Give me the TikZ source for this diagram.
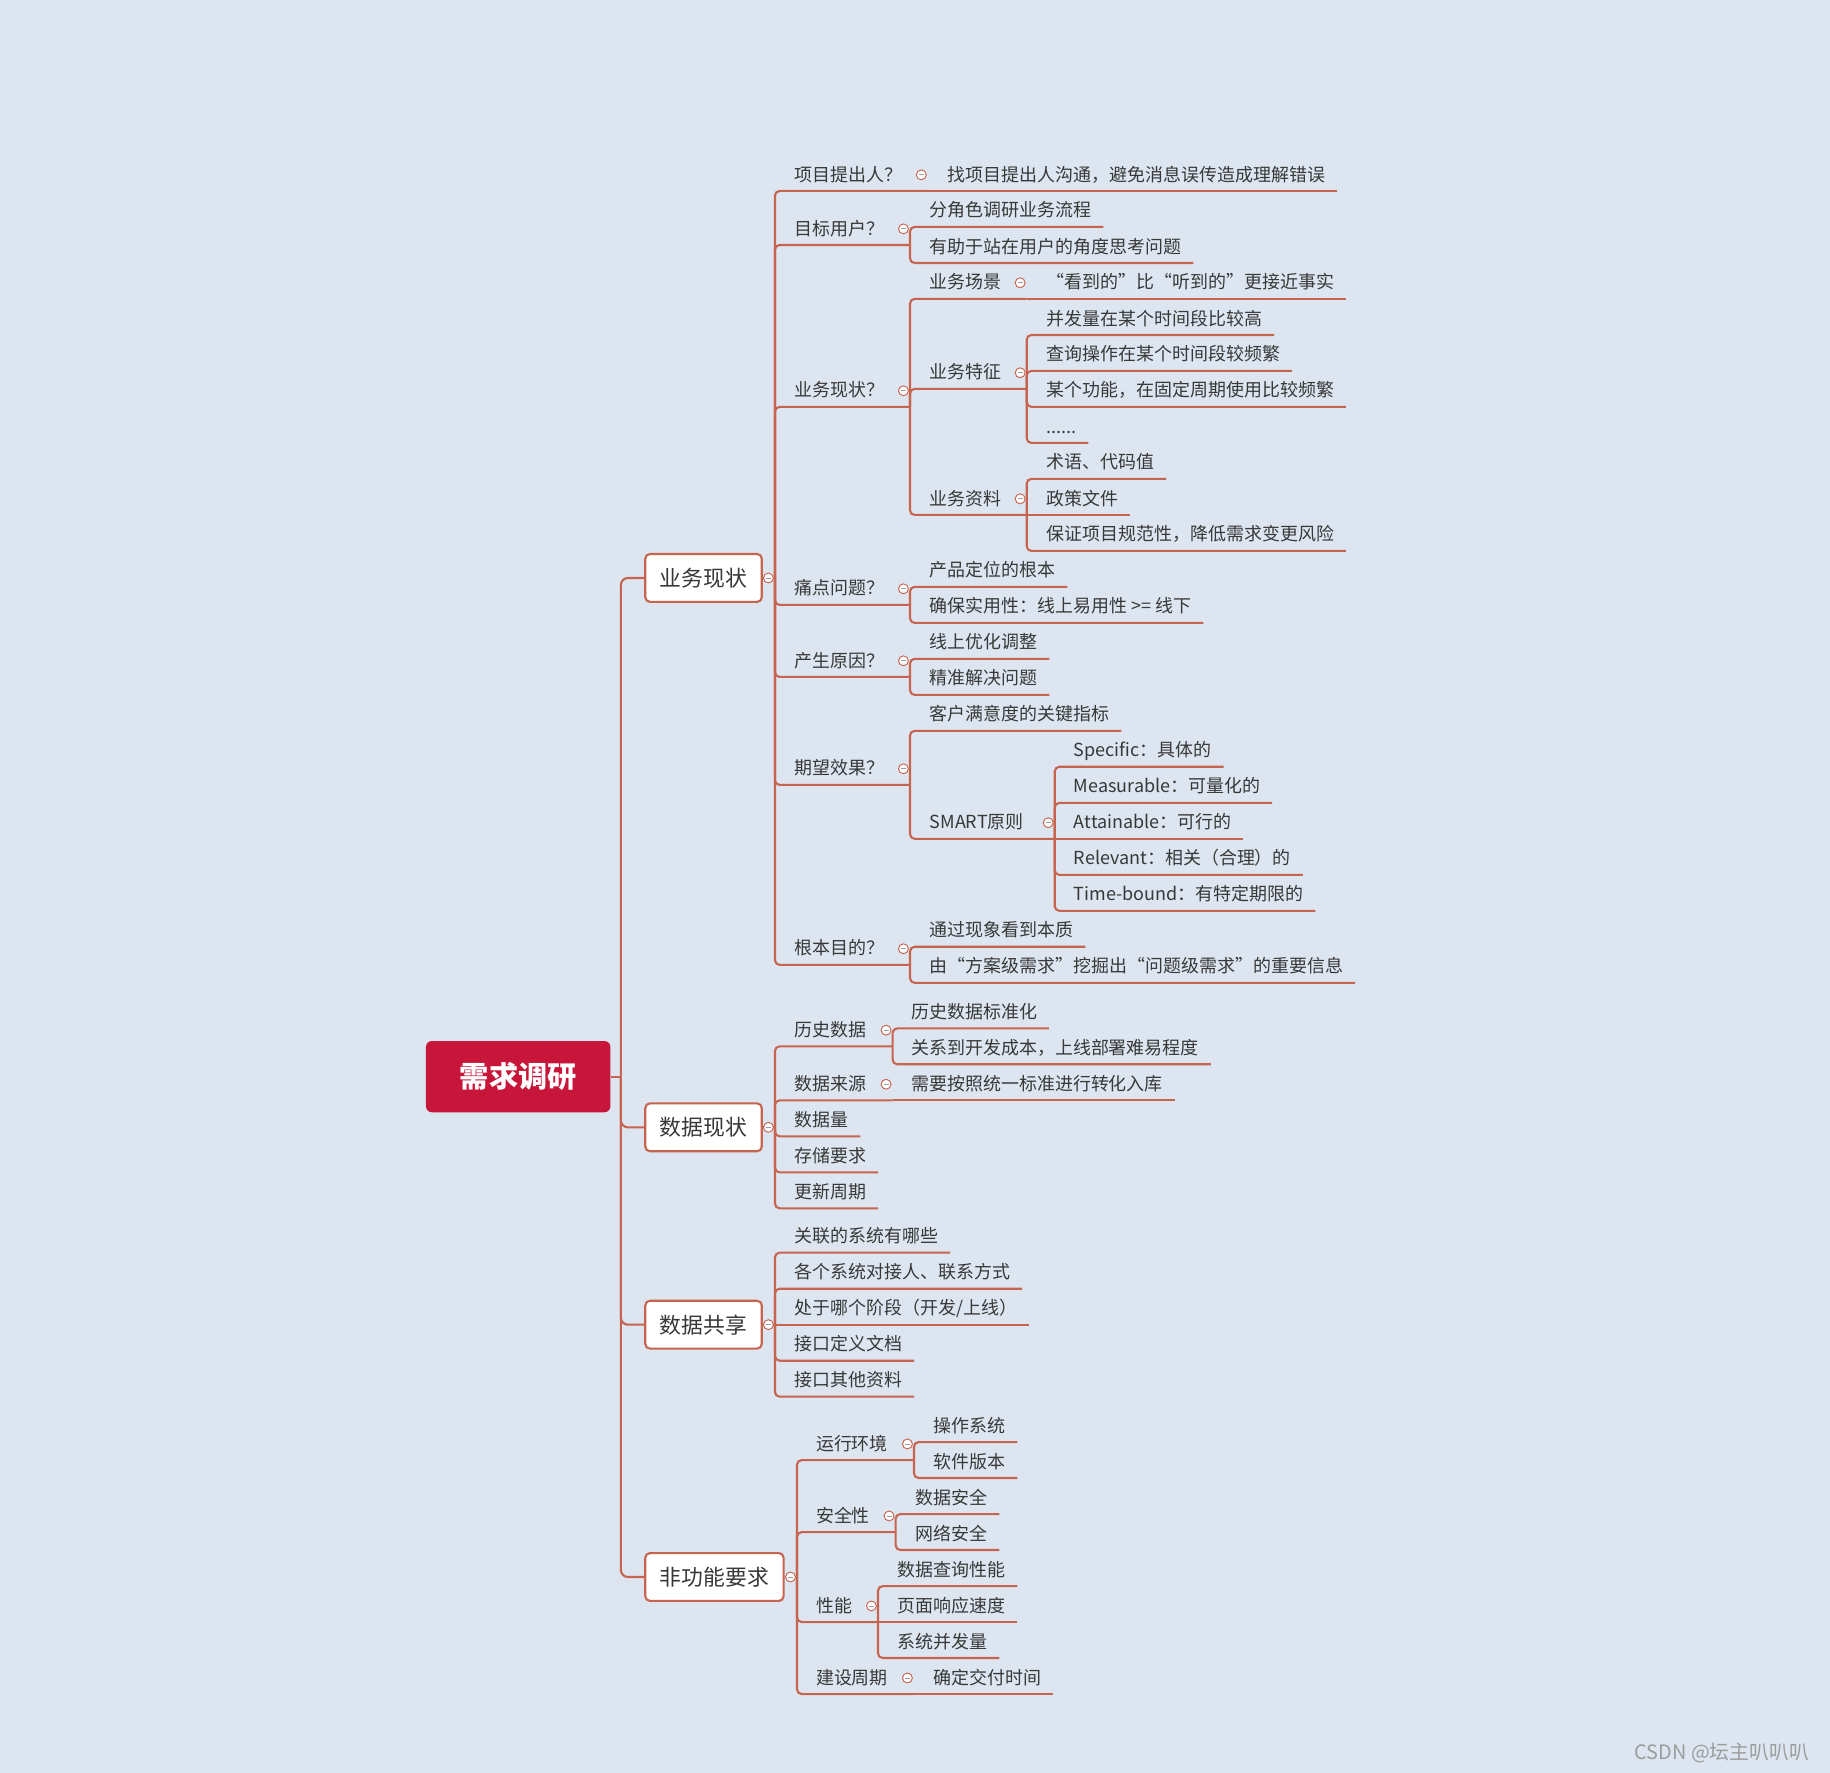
\documentclass[tikz,border=0pt]{standalone}
\usepackage{fontspec}
\setmainfont{Noto Sans CJK SC}
\definecolor{cFondo}{HTML}{DDE6F0}
\definecolor{cLinea}{HTML}{C6644F}
\definecolor{cRojo}{HTML}{C8163A}
\definecolor{cTexto}{HTML}{383838}
\definecolor{cGris}{HTML}{9C9C9C}
\newcommand{\cizq}{{\addfontfeature{RawFeature=+fwid}“}}
\newcommand{\cder}{{\addfontfeature{RawFeature=+fwid}”}}

\begin{document}
\begin{tikzpicture}[
        x=1pt, y=-1pt,
        linea/.style={
            draw=cLinea,
            line width=1.8pt,
            rounded corners=4pt
        },
        tema/.style={
            anchor=south west,
            inner xsep=10pt,
            inner ysep=0pt,
            minimum height=27.6pt,
            text height=13.2pt,
            text depth=2.2pt,
            text=cTexto,
            font=\fontsize{15.4pt}{18pt}\selectfont
        },
        rama/.style={
            anchor=west,
            draw=cLinea,
            line width=1.8pt,
            fill=white,
            rounded corners=4pt,
            inner xsep=12.5pt,
            minimum height=41pt,
            text=cTexto,
            font=\fontsize{18.7pt}{22pt}\selectfont
        },
        centro/.style={
            fill=cRojo,
            rounded corners=5pt,
            minimum width=158pt,
            minimum height=61pt,
            text=white,
            font=\fontsize{25pt}{30pt}\selectfont\bfseries
        },
        plegar/.style={
            circle,
            draw=cLinea,
            line width=0.8pt,
            fill=white,
            minimum size=8.5pt,
            inner sep=0pt,
            path picture={\draw[cGris, line width=0.7pt]
                ([xshift=-2.2pt]path picture bounding box.center) --
                ([xshift=2.2pt]path picture bounding box.center);}
        }
    ]

    \path[use as bounding box, fill=cFondo] (0,0) rectangle (1568,1519);

    % Nodo central
    \node[centro] (r) at (444,922.5) {需求调研};
    \coordinate (tr) at (532,922.5);

    % Ramas principales
    \node[rama] (a) at (552,495.2)  {业务现状};
    \node[rama] (b) at (552,965.9)  {数据现状};
    \node[rama] (c) at (552,1135)   {数据共享};
    \node[rama] (d) at (552,1351.2) {非功能要求};

    \coordinate (ja) at (664,495.2);
    \coordinate (jb) at (664,965.9);
    \coordinate (jc) at (664,1135);
    \coordinate (jd) at (682.9,1351.2);

    \draw[linea] (r.east) -- (tr);
    \draw[linea, rounded corners=6pt] (tr) |- (a.west);
    \draw[linea, rounded corners=6pt] (tr) |- (b.west);
    \draw[linea, rounded corners=6pt] (tr) |- (c.west);
    \draw[linea, rounded corners=6pt] (tr) |- (d.west);
    \draw[linea] (a.east) -- (ja);
    \draw[linea] (b.east) -- (jb);
    \draw[linea] (c.east) -- (jc);
    \draw[linea] (d.east) -- (jd);

    % 业务现状
    \node[tema] (a1)   at (670.5,163.6) {项目提出人？};
    \node[tema] (a1a)  at (801.9,163.6) {找项目提出人沟通，避免消息误传造成理解错误};
    \node[tema] (a2)   at (670.5,209.9) {目标用户？};
    \node[tema] (a2a)  at (786.4,194.4) {分角色调研业务流程};
    \node[tema] (a2b)  at (786.4,225.3) {有助于站在用户的角度思考问题};
    \node[tema] (a3)   at (670.5,348.6) {业务现状？};
    \node[tema] (a3a)  at (786.4,256.1) {业务场景};
    \node[tema] (a3a1) at (886.4,256.1) {\cizq 看到的\cder 比\cizq 听到的\cder 更接近事实};
    \node[tema] (a3b)  at (786.4,333.2) {业务特征};
    \node[tema] (a3b1) at (886.4,287.0) {并发量在某个时间段比较高};
    \node[tema] (a3b2) at (886.4,317.8) {查询操作在某个时间段较频繁};
    \node[tema] (a3b3) at (886.4,348.6) {某个功能，在固定周期使用比较频繁};
    \node[tema] (a3b4) at (886.4,379.5) {......};
    \node[tema] (a3c)  at (786.4,441.2) {业务资料};
    \node[tema] (a3c1) at (886.4,410.3) {术语、代码值};
    \node[tema] (a3c2) at (886.4,441.2) {政策文件};
    \node[tema] (a3c3) at (886.4,472.0) {保证项目规范性，降低需求变更风险};
    \node[tema] (a4)   at (670.5,518.3) {痛点问题？};
    \node[tema] (a4a)  at (786.4,502.8) {产品定位的根本};
    \node[tema] (a4b)  at (786.4,533.7) {确保实用性：线上易用性 >= 线下};
    \node[tema] (a5)   at (670.5,580.0) {产生原因？};
    \node[tema] (a5a)  at (786.4,564.5) {线上优化调整};
    \node[tema] (a5b)  at (786.4,595.4) {精准解决问题};
    \node[tema] (a6)   at (670.5,672.5) {期望效果？};
    \node[tema] (a6a)  at (786.4,626.2) {客户满意度的关键指标};
    \node[tema] (a6b)  at (786.4,718.7) {SMART原则};
    \node[tema] (a6b1) at (910,657.0)   {Specific：具体的};
    \node[tema] (a6b2) at (910,687.9)   {Measurable：可量化的};
    \node[tema] (a6b3) at (910,718.7)   {Attainable：可行的};
    \node[tema] (a6b4) at (910,749.6)   {Relevant：相关（合理）的};
    \node[tema] (a6b5) at (910,780.4)   {Time-bound：有特定期限的};
    \node[tema] (a7)   at (670.5,826.7) {根本目的？};
    \node[tema] (a7a)  at (786.4,811.2) {通过现象看到本质};
    \node[tema] (a7b)  at (786.4,842.1) {由\cizq 方案级需求\cder 挖掘出\cizq 问题级需求\cder 的重要信息};

    \coordinate (ja1)  at (795,163.6);
    \coordinate (ja2)  at (779.7,209.9);
    \coordinate (ja3)  at (779.7,348.6);
    \coordinate (ja3a) at (879.7,256.1);
    \coordinate (ja3b) at (879.7,333.2);
    \coordinate (ja3c) at (879.7,441.2);
    \coordinate (ja4)  at (779.7,518.3);
    \coordinate (ja5)  at (779.7,580.0);
    \coordinate (ja6)  at (779.7,672.5);
    \coordinate (ja6b) at (903.7,718.7);
    \coordinate (ja7)  at (779.7,826.7);

    \draw[linea] (ja) |- (ja1);
    \draw[linea] (ja) |- (ja2);
    \draw[linea] (ja) |- (ja3);
    \draw[linea] (ja) |- (ja4);
    \draw[linea] (ja) |- (ja5);
    \draw[linea] (ja) |- (ja6);
    \draw[linea] (ja) |- (ja7);
    \draw[linea] (ja1) -- (a1a.south east);
    \draw[linea] (ja2) |- (a2a.south east);
    \draw[linea] (ja2) |- (a2b.south east);
    \draw[linea] (ja3) |- (ja3a);
    \draw[linea] (ja3) |- (ja3b);
    \draw[linea] (ja3) |- (ja3c);
    \draw[linea] (ja3a) -- (a3a1.south east);
    \draw[linea] (ja3b) |- (a3b1.south east);
    \draw[linea] (ja3b) |- (a3b2.south east);
    \draw[linea] (ja3b) |- (a3b3.south east);
    \draw[linea] (ja3b) |- (a3b4.south east);
    \draw[linea] (ja3c) |- (a3c1.south east);
    \draw[linea] (ja3c) -- (a3c2.south east);
    \draw[linea] (ja3c) |- (a3c3.south east);
    \draw[linea] (ja4) |- (a4a.south east);
    \draw[linea] (ja4) |- (a4b.south east);
    \draw[linea] (ja5) |- (a5a.south east);
    \draw[linea] (ja5) |- (a5b.south east);
    \draw[linea] (ja6) |- (a6a.south east);
    \draw[linea] (ja6) |- (ja6b);
    \draw[linea] (ja6b) |- (a6b1.south east);
    \draw[linea] (ja6b) |- (a6b2.south east);
    \draw[linea] (ja6b) -- (a6b3.south east);
    \draw[linea] (ja6b) |- (a6b4.south east);
    \draw[linea] (ja6b) |- (a6b5.south east);
    \draw[linea] (ja7) |- (a7a.south east);
    \draw[linea] (ja7) |- (a7b.south east);

    % 数据现状
    \node[tema] (b1)  at (670.5,896.5)  {历史数据};
    \node[tema] (b1a) at (770.6,881.1)  {历史数据标准化};
    \node[tema] (b1b) at (770.6,911.9)  {关系到开发成本，上线部署难易程度};
    \node[tema] (b2)  at (670.5,942.8)  {数据来源};
    \node[tema] (b2a) at (770.6,942.8)  {需要按照统一标准进行转化入库};
    \node[tema] (b3)  at (670.5,973.6)  {数据量};
    \node[tema] (b4)  at (670.5,1004.5) {存储要求};
    \node[tema] (b5)  at (670.5,1035.3) {更新周期};

    \coordinate (jb1) at (764.8,896.5);
    \coordinate (jb2) at (764.8,942.8);

    \draw[linea] (jb) |- (jb1);
    \draw[linea] (jb) |- (jb2);
    \draw[linea] (jb) |- (b3.south east);
    \draw[linea] (jb) |- (b4.south east);
    \draw[linea] (jb) |- (b5.south east);
    \draw[linea] (jb1) |- (b1a.south east);
    \draw[linea] (jb1) |- (b1b.south east);
    \draw[linea] (jb2) -- (b2a.south east);

    % 数据共享
    \node[tema] (c1) at (670.5,1073.3) {关联的系统有哪些};
    \node[tema] (c2) at (670.5,1104.2) {各个系统对接人、联系方式};
    \node[tema] (c3) at (670.5,1135)   {处于哪个阶段（开发/上线）};
    \node[tema] (c4) at (670.5,1165.9) {接口定义文档};
    \node[tema] (c5) at (670.5,1196.7) {接口其他资料};

    \draw[linea] (jc) |- (c1.south east);
    \draw[linea] (jc) |- (c2.south east);
    \draw[linea] (jc) -- (c3.south east);
    \draw[linea] (jc) |- (c4.south east);
    \draw[linea] (jc) |- (c5.south east);

    % 非功能要求
    \node[tema] (d1)  at (689,1251)     {运行环境};
    \node[tema] (d1a) at (789.7,1235.6) {操作系统};
    \node[tema] (d1b) at (789.7,1266.4) {软件版本};
    \node[tema] (d2)  at (689,1312.7)   {安全性};
    \node[tema] (d2a) at (774.3,1297.3) {数据安全};
    \node[tema] (d2b) at (774.3,1328.1) {网络安全};
    \node[tema] (d3)  at (689,1389.8)   {性能};
    \node[tema] (d3a) at (758.9,1359.0) {数据查询性能};
    \node[tema] (d3b) at (758.9,1389.8) {页面响应速度};
    \node[tema] (d3c) at (758.9,1420.6) {系统并发量};
    \node[tema] (d4)  at (689,1451.5)   {建设周期};
    \node[tema] (d4a) at (789.7,1451.5) {确定交付时间};

    \coordinate (jd1) at (783.1,1251);
    \coordinate (jd2) at (767.4,1312.7);
    \coordinate (jd3) at (752.3,1389.8);
    \coordinate (jd4) at (783.1,1451.5);

    \draw[linea] (jd) |- (jd1);
    \draw[linea] (jd) |- (jd2);
    \draw[linea] (jd) |- (jd3);
    \draw[linea] (jd) |- (jd4);
    \draw[linea] (jd1) |- (d1a.south east);
    \draw[linea] (jd1) |- (d1b.south east);
    \draw[linea] (jd2) |- (d2a.south east);
    \draw[linea] (jd2) |- (d2b.south east);
    \draw[linea] (jd3) |- (d3a.south east);
    \draw[linea] (jd3) -- (d3b.south east);
    \draw[linea] (jd3) |- (d3c.south east);
    \draw[linea] (jd4) -- (d4a.south east);

    % Botones de plegado
    \node[plegar] (ma)   at ([xshift=-5.6pt]ja) {};
    \node[plegar] (mb)   at ([xshift=-5.6pt]jb) {};
    \node[plegar] (mc)   at ([xshift=-5.6pt]jc) {};
    \node[plegar] (md)   at ([xshift=-5.6pt]jd) {};
    \node[plegar] (ma1)  at ([xshift=-5.6pt,yshift=13.8pt]ja1) {};
    \node[plegar] (ma2)  at ([xshift=-5.6pt,yshift=13.8pt]ja2) {};
    \node[plegar] (ma3)  at ([xshift=-5.6pt,yshift=13.8pt]ja3) {};
    \node[plegar] (ma3a) at ([xshift=-5.6pt,yshift=13.8pt]ja3a) {};
    \node[plegar] (ma3b) at ([xshift=-5.6pt,yshift=13.8pt]ja3b) {};
    \node[plegar] (ma3c) at ([xshift=-5.6pt,yshift=13.8pt]ja3c) {};
    \node[plegar] (ma4)  at ([xshift=-5.6pt,yshift=13.8pt]ja4) {};
    \node[plegar] (ma5)  at ([xshift=-5.6pt,yshift=13.8pt]ja5) {};
    \node[plegar] (ma6)  at ([xshift=-5.6pt,yshift=13.8pt]ja6) {};
    \node[plegar] (ma6b) at ([xshift=-5.6pt,yshift=13.8pt]ja6b) {};
    \node[plegar] (ma7)  at ([xshift=-5.6pt,yshift=13.8pt]ja7) {};
    \node[plegar] (mb1)  at ([xshift=-5.6pt,yshift=13.8pt]jb1) {};
    \node[plegar] (mb2)  at ([xshift=-5.6pt,yshift=13.8pt]jb2) {};
    \node[plegar] (md1)  at ([xshift=-5.6pt,yshift=13.8pt]jd1) {};
    \node[plegar] (md2)  at ([xshift=-5.6pt,yshift=13.8pt]jd2) {};
    \node[plegar] (md3)  at ([xshift=-5.6pt,yshift=13.8pt]jd3) {};
    \node[plegar] (md4)  at ([xshift=-5.6pt,yshift=13.8pt]jd4) {};

    % Marca de agua
    \node[anchor=east, text=cGris, font=\fontsize{17pt}{20pt}\selectfont]
        (marca) at (1553.6,1502.3) {CSDN @坛主叭叭叭};

    \end{tikzpicture}
\end{document}
